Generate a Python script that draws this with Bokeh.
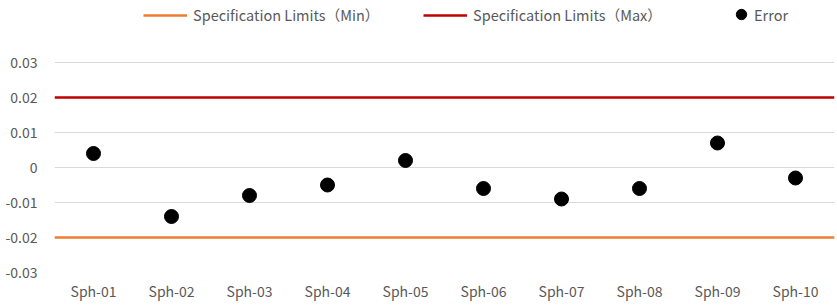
from bokeh.plotting import figure
from bokeh.models import FactorRange, Range1d, Legend, LegendItem, NumeralTickFormatter, FixedTicker
from bokeh.embed import file_html
from bokeh.resources import INLINE

categories = ["Sph-01", "Sph-02", "Sph-03", "Sph-04", "Sph-05",
              "Sph-06", "Sph-07", "Sph-08", "Sph-09", "Sph-10"]
error = [0.004, -0.014, -0.008, -0.005, 0.002, -0.006, -0.009, -0.006, 0.007, -0.003]
spec_min = -0.02
spec_max = 0.02
y_ticks = [-0.03, -0.02, -0.01, 0, 0.01, 0.02, 0.03]

TXT = "#595959"
FONT = "Noto Sans CJK SC"

# plot area is 210 px tall for the tick span; extra 62 px on top holds the legend
axis_px = 210
top_px = 62
y_lo, y_hi = y_ticks[0], y_ticks[-1]
y_top = y_hi + (y_hi - y_lo) * top_px / axis_px

p = figure(frame_width=780, frame_height=axis_px + top_px,
           x_range=FactorRange(*categories, range_padding=0),
           y_range=Range1d(y_lo, y_top), output_backend="svg", toolbar_location=None,
           min_border_left=54, min_border_right=3, min_border_top=0, min_border_bottom=0)
p.outline_line_color = None
p.xgrid.grid_line_color = None
p.ygrid.grid_line_color = "#D9D9D9"
p.ygrid.grid_line_width = 1

for ax in (p.xaxis[0], p.yaxis[0]):
    ax.axis_line_color = None
    ax.major_tick_line_color = None
    ax.minor_tick_line_color = None
    ax.major_label_text_color = TXT
    ax.major_label_text_font = FONT
    ax.major_label_text_font_size = "14px"
p.yaxis.ticker = FixedTicker(ticks=y_ticks)
p.yaxis.formatter = NumeralTickFormatter(format="0.[00]")
p.yaxis.major_label_standoff = 11
p.xaxis.major_label_standoff = 2

xs = [(categories[0], -0.5), (categories[-1], 0.5)]
r_min = p.line(x=xs, y=[spec_min, spec_min], line_color="#ED7D31", line_width=2.5)
r_max = p.line(x=xs, y=[spec_max, spec_max], line_color="#C00000", line_width=2.5)
r_err = p.scatter(x=categories, y=error, size=14, color="black")

def mk(label, r, x, y, gw, gh, standoff):
    lg = Legend(items=[LegendItem(label=label, renderers=[r])], location=(x, y),
                orientation="horizontal", padding=0, margin=0, spacing=0,
                border_line_color=None, background_fill_alpha=0,
                glyph_width=gw, glyph_height=gh, label_height=gh,
                label_standoff=standoff, label_text_font=FONT,
                label_text_font_size="14.5px", label_text_color=TXT)
    p.add_layout(lg, "center")

mk("Specification Limits（Min）", r_min, 89, 247, 44, 16, 6)
mk("Specification Limits（Max）", r_max, 369, 247, 44, 16, 6)
mk("Error", r_err, 674, 245, 26, 26, 0)

open("out.html", "w").write(file_html(p, INLINE))
